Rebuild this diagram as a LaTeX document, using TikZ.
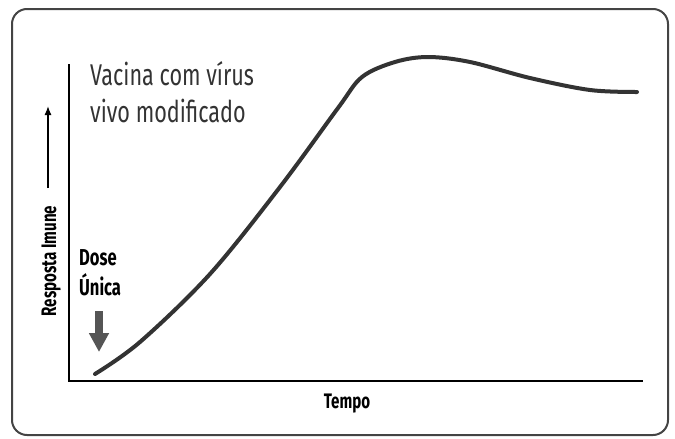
\documentclass[tikz,border=0pt]{standalone}
\usepackage{fontspec}
\setmainfont{Fira Sans}
\newfontfamily\condfont[FakeStretch=0.72]{Fira Sans}
\usetikzlibrary{arrows.meta,positioning}
\definecolor{framegray}{HTML}{444444}
\definecolor{curvegray}{HTML}{333333}
\definecolor{dosegray}{HTML}{555555}

\begin{document}
\begin{tikzpicture}[x=1pt,y=-1pt,
    lbl/.style={inner sep=0pt,font=\condfont\bfseries\fontsize{21}{21}\selectfont},
    axis/.style={line width=1.4pt,black}]
      \useasboundingbox (0,0) rectangle (675,439);
      % frame
      \draw[line width=2pt,framegray,rounded corners=15pt] (12,9) rectangle (668,435);

      % axes
      \coordinate (top) at (69,64);
      \coordinate (origin) at (69,381);
      \coordinate (right) at (643,381);
      \draw[axis] (top) -- (origin) -- (right);

      % texts
      \node[anchor=base west,inner sep=0pt,align=left,
        font=\condfont\fontsize{30}{37}\selectfont,text=black!80] (vacina) at (90,122)
        {Vacina com vírus\\vivo modificado};
      \node[lbl,anchor=base] (tempo) at (347,408) {Tempo};
      \node[lbl,anchor=base,rotate=90] (resposta) at (56,261) {Resposta Imune};
      \node[lbl,anchor=base west,align=left,font=\condfont\bfseries\fontsize{23}{30}\selectfont]
        (dose) at (79,295) {Dose\\Única};

      % arrows
      \coordinate (ylo) at (48,188);
      \coordinate (yhi) at (48,106);
      \draw[line width=1.3pt,-{Latex[length=9pt,width=7pt]}] (ylo) -- (yhi);
      \coordinate (dtop) at (99,311);
      \coordinate (dtip) at (99,352);
      \draw[line width=8pt,dosegray,-{Triangle[length=19pt,width=19pt]}] (dtop) -- (dtip);

      % response curve
      \draw[line width=4pt,curvegray,line cap=round] plot[smooth,tension=0.55] coordinates {
        (95,374) (140,342) (210,274) (280,187) (338,108) (362,77) (395,62) (428,57)
        (470,62) (530,78) (590,90) (637,92)};
    \end{tikzpicture}
\end{document}
